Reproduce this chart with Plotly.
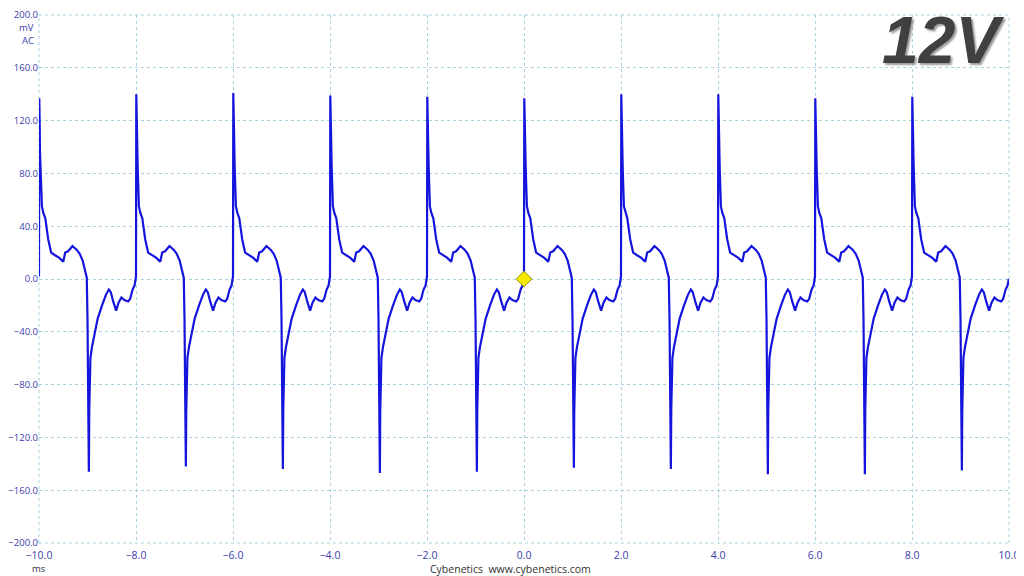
import plotly.graph_objects as go

# start time (ms) of each switching cycle, spike heights read per cycle
cycle_start_ms = [-10.0, -8.0, -6.0, -4.0, -2.0, 0.0, 2.0, 4.0, 6.0, 8.0]
peak_mv = [137, 140, 141, 139, 138, 137, 140, 140, 137, 138]
trough_mv = [-146, -142, -144, -147, -146, -143, -144, -148, -148, -145]

# one cycle of the ripple (time offset in ms, value in mV)
# "peak"/"trough" mark the spike top / bottom, filled per cycle from the lists above
cycle_dt = [0.000, 0.006, 0.014, 0.020, 0.035, 0.060, 0.090, 0.130, 0.190, 0.250,
            0.330, 0.420, 0.500, 0.540, 0.600, 0.690, 0.780, 0.840, 0.900, 0.940,
            0.985, 1.000, 1.012, 1.020, 1.028, 1.036, 1.046, 1.060, 1.090, 1.140,
            1.210, 1.300, 1.380, 1.440, 1.480, 1.530, 1.590, 1.640, 1.700, 1.760,
            1.840, 1.880, 1.930, 1.970, 1.995]
cycle_mv = [2, "peak", 118, 96, 84, 55, 50, 46, 30, 20,
            18, 16, 13, 20, 21, 25, 22, 19, 14, 8,
            1, -30, -75, -95, "trough", -100, -70, -60, -52, -42,
            -30, -20, -12, -8, -10, -17, -24, -18, -14, -16,
            -17, -15, -8, -5, 0]

marker_t = [0.0]
marker_mv = [0.0]

x_ticks = [-10, -8, -6, -4, -2, 0, 2, 4, 6, 8, 10]
y_ticks = [-200, -160, -120, -80, -40, 0, 40, 80, 120, 160, 200]

trace_t, trace_mv = [], []
for i, t0 in enumerate(cycle_start_ms):
    for dt, v in zip(cycle_dt, cycle_mv):
        if v == "peak":
            v = peak_mv[i]
        elif v == "trough":
            v = trough_mv[i]
        trace_t.append(t0 + dt)
        trace_mv.append(v)

grid_col = "#a9d2de"
tick_col = "#3c3cae"
font = "Open Sans"

fig = go.Figure()
fig.add_trace(go.Scatter(x=trace_t, y=trace_mv, mode="lines",
                         line=dict(color="#1414dc", width=2.2), hoverinfo="skip"))
fig.add_trace(go.Scatter(x=marker_t, y=marker_mv, mode="markers",
                         marker=dict(symbol="diamond", size=12, color="#f4ea00",
                                     line=dict(color="#9c9000", width=1))))

# the page body adds an 8px offset; margins leave room so the y labels are not clipped
fig.update_layout(
    width=1024, height=576,
    margin=dict(l=31, r=23, t=7, b=41, autoexpand=False),
    paper_bgcolor="white", plot_bgcolor="white",
    showlegend=False,
    font=dict(family=font, size=10, color=tick_col),
)
fig.update_xaxes(range=[-10, 10], tickvals=x_ticks, tickformat=".1f",
                 showgrid=True, gridcolor=grid_col, griddash="dot", gridwidth=1,
                 zeroline=False, showline=False, ticks="", ticklabelstandoff=4,
                 automargin=False,
                 tickfont=dict(family=font, size=10.5, color=tick_col))
fig.update_yaxes(range=[-200, 200], tickvals=y_ticks, tickformat=".1f",
                 showgrid=True, gridcolor=grid_col, griddash="dot", gridwidth=1,
                 zeroline=False, showline=False, ticks="", ticklabelstandoff=0,
                 automargin=False,
                 tickfont=dict(family=font, size=9.5, color=tick_col))

# edge lines of the scope screen, dotted like the grid
for x0, y0, x1, y1 in [(0, 0, 1, 0), (0, 1, 1, 1), (0, 0, 0, 1), (1, 0, 1, 1)]:
    fig.add_shape(type="line", xref="paper", yref="paper", x0=x0, y0=y0, x1=x1, y1=y1,
                  line=dict(color=grid_col, width=1, dash="dot"), layer="below")

fig.add_annotation(text="mV", xref="paper", yref="paper", x=0, y=0.9754,
                   xanchor="right", yanchor="middle", xshift=-3, showarrow=False,
                   font=dict(family=font, size=9.5, color=tick_col))
fig.add_annotation(text="AC", xref="paper", yref="paper", x=0, y=0.9508,
                   xanchor="right", yanchor="middle", xshift=-3, showarrow=False,
                   font=dict(family=font, size=9.5, color=tick_col))
fig.add_annotation(text="ms", xref="paper", yref="paper", x=0.0, y=-0.0492,
                   xanchor="center", yanchor="middle", showarrow=False,
                   font=dict(family=font, size=9.5, color="#333333"))
fig.add_annotation(text="Cybenetics  www.cybenetics.com", xref="paper", yref="paper",
                   x=0.4856, y=-0.0492, xanchor="center", yanchor="middle", showarrow=False,
                   font=dict(family=font, size=10.5, color="#333333"))
fig.add_annotation(text="12V", xref="paper", yref="paper", x=0.932, y=0.9527,
                   xanchor="center", yanchor="middle", showarrow=False,
                   font=dict(family="Liberation Sans", size=66, color="#404040",
                             weight="bold", style="italic",
                             shadow="2px 2px 2px #9a9a9a"))

fig.write_html("out.html")
